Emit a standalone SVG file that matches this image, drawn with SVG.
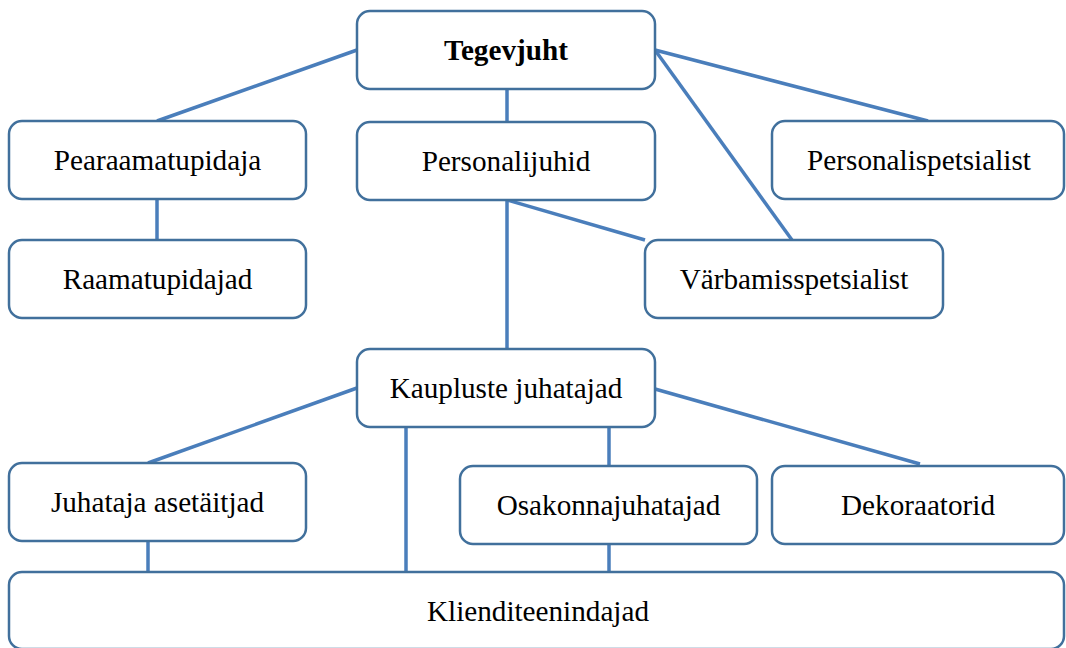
<svg xmlns="http://www.w3.org/2000/svg" width="1066" height="648" viewBox="0 0 1066 648">
  <style>
    .box { fill: #ffffff; stroke: #41709c; stroke-width: 2.5; }
    .lbl { font-family: "Liberation Serif", "Times New Roman", serif; font-size: 29.2px; fill: #000000; text-anchor: middle; }
    .bold { font-weight: bold; }
    .link { stroke: #4a7ebb; stroke-width: 3.5; fill: none; stroke-linecap: butt; }
  </style>
  <rect width="1066" height="648" fill="#ffffff"/>

  <!-- connectors between positions -->
  <g id="connectors">
    <line class="link" x1="357" y1="50" x2="157" y2="121"/>
    <line class="link" x1="507" y1="89" x2="507" y2="122"/>
    <line class="link" x1="655" y1="50" x2="928" y2="121"/>
    <line class="link" x1="655" y1="50" x2="792" y2="240"/>
    <line class="link" x1="157" y1="199" x2="157" y2="240"/>
    <line class="link" x1="507" y1="200" x2="645" y2="240"/>
    <line class="link" x1="507" y1="200" x2="507" y2="349"/>
    <line class="link" x1="357" y1="388" x2="148" y2="463"/>
    <line class="link" x1="406" y1="427" x2="406" y2="572"/>
    <line class="link" x1="609" y1="427" x2="609" y2="466"/>
    <line class="link" x1="655" y1="389" x2="920" y2="464"/>
    <line class="link" x1="148" y1="541" x2="148" y2="572"/>
    <line class="link" x1="609" y1="544" x2="609" y2="572"/>
  </g>

  <g id="tegevjuht">
    <rect class="box" x="357" y="11" width="298" height="78" rx="13"/>
    <text class="lbl bold" x="506" y="60">Tegevjuht</text>
  </g>
  <g id="pearaamatupidaja">
    <rect class="box" x="9" y="121" width="297" height="78" rx="13"/>
    <text class="lbl" x="157.5" y="170">Pearaamatupidaja</text>
  </g>
  <g id="personalijuhid">
    <rect class="box" x="357" y="122" width="298" height="78" rx="13"/>
    <text class="lbl" x="506" y="171">Personalijuhid</text>
  </g>
  <g id="personalispetsialist">
    <rect class="box" x="772" y="121" width="292" height="78" rx="13"/>
    <text class="lbl" x="919" y="170">Personalispetsialist</text>
  </g>
  <g id="raamatupidajad">
    <rect class="box" x="9" y="240" width="297" height="78" rx="13"/>
    <text class="lbl" x="157.5" y="289">Raamatupidajad</text>
  </g>
  <g id="varbamisspetsialist">
    <rect class="box" x="645" y="240" width="298" height="78" rx="13"/>
    <text class="lbl" x="794" y="289">Värbamisspetsialist</text>
  </g>
  <g id="kaupluste-juhatajad">
    <rect class="box" x="357" y="349" width="298" height="78" rx="13"/>
    <text class="lbl" x="506" y="398">Kaupluste juhatajad</text>
  </g>
  <g id="juhataja-asetaitjad">
    <rect class="box" x="9" y="463" width="297" height="78" rx="13"/>
    <text class="lbl" x="157.5" y="512">Juhataja asetäitjad</text>
  </g>
  <g id="osakonnajuhatajad">
    <rect class="box" x="460" y="466" width="297" height="78" rx="13"/>
    <text class="lbl" x="608.5" y="515">Osakonnajuhatajad</text>
  </g>
  <g id="dekoraatorid">
    <rect class="box" x="772" y="466" width="292" height="78" rx="13"/>
    <text class="lbl" x="918" y="515">Dekoraatorid</text>
  </g>
  <g id="klienditeenindajad">
    <rect class="box" x="9" y="572" width="1055" height="77" rx="13"/>
    <text class="lbl" x="538" y="621">Klienditeenindajad</text>
  </g>
</svg>
